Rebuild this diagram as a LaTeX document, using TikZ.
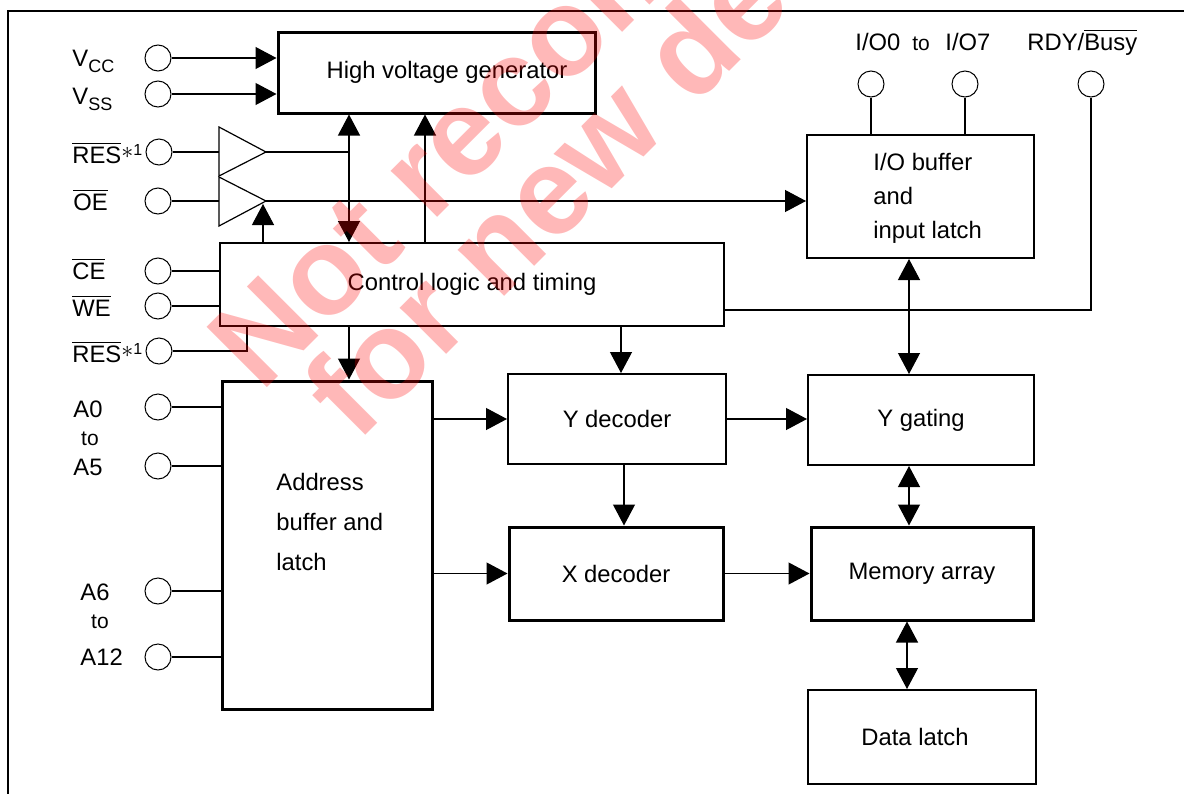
\documentclass[tikz,border=0pt]{standalone}
\usepackage{fontspec}
\setmainfont{Liberation Sans}
\usetikzlibrary{arrows.meta}
\newcommand\myovl[1]{$\overline{\hbox{#1}}$}
\newcommand\mysub[1]{\raisebox{-3pt}{\fontsize{9}{9}\selectfont #1}}
\newcommand\mystar{\raisebox{2.5pt}{$\ast$}\raisebox{4pt}{\fontsize{8}{8}\selectfont 1}}
\begin{document}
\begin{tikzpicture}[x=0.5pt,y=-0.5pt,
  every node/.style={font=\fontsize{11.9}{14}\selectfont},
  pin/.style={circle,draw,line width=0.5pt,minimum size=13pt,inner sep=0pt},
  box/.style={draw,line width=1pt,rectangle,inner sep=0pt},
  thickbox/.style={box,line width=1.5pt},
  lbl/.style={inner sep=0pt,anchor=base west},
  small/.style={inner sep=0pt,font=\fontsize{10.5}{12}\selectfont},
  conn/.style={line width=0.6pt},
  arr/.style={conn,-{Triangle[length=10.5pt,width=11pt]}},
  darr/.style={conn,{Triangle[length=10.5pt,width=11pt]}-{Triangle[length=10.5pt,width=11pt]}},
  buf/.style={line width=0.6pt},
  wm/.style={inner sep=0pt,anchor=base west,rotate=45,text=red,text opacity=0.28,
    font=\fontsize{62}{62}\bfseries\selectfont}
]
\useasboundingbox (0,0) rectangle (1184,793);
% frame
\draw[line width=1.3pt] (8,810) -- (8,11) -- (1200,11);

% boxes
\node[thickbox,minimum width=158.5pt,minimum height=40.5pt] (hv) at (436.5,72.5) {\hspace*{10.5pt}High voltage generator};
\node[box,minimum width=252pt,minimum height=41.5pt] (ctl) at (472,284.5) {Control logic and timing};
\node[thickbox,minimum width=105pt,minimum height=164pt] (addr) at (327,545) {};
\node[inner sep=0pt,anchor=west,align=left,font=\fontsize{11.9}{20}\selectfont] (addrtxt) at (276,522) {Address\\buffer and\\latch};
\node[box,minimum width=109pt,minimum height=45pt] (ydec) at (617,419) {Y decoder};
\node[thickbox,minimum width=107pt,minimum height=46.5pt] (xdec) at (616,573.5) {X decoder};
\node[box,minimum width=113.5pt,minimum height=61.5pt] (iob) at (920.5,196.5) {};
\node[inner sep=0pt,anchor=west,align=left,font=\fontsize{11.9}{17}\selectfont] (iobtxt) at (873,198) {I/O buffer\\and\\input latch};
\node[box,minimum width=113pt,minimum height=45pt] (ygat) at (921,420) {Y gating};
\node[thickbox,minimum width=111pt,minimum height=46.5pt] (mem) at (922,573.5) {Memory array};
\node[box,minimum width=114pt,minimum height=47pt] (dlat) at (922,737) {Data latch\hspace*{7pt}};

% pins
\node[pin] (vcc) at (158,58) {};
\node[pin] (vss) at (158,94) {};
\node[pin] (res1) at (159,152) {};
\node[pin] (oe) at (158,201) {};
\node[pin] (ce) at (158,271) {};
\node[pin] (we) at (158,306) {};
\node[pin] (res2) at (159,351) {};
\node[pin] (a0) at (158,407) {};
\node[pin] (a5) at (158,466) {};
\node[pin] (a6) at (158,591) {};
\node[pin] (a12) at (158,657) {};
\node[pin] (io0) at (871,84) {};
\node[pin] (io7) at (965,84) {};
\node[pin] (rdy) at (1091,84) {};

% pin labels
\node[lbl] (lvcc) at (72,66) {V\mysub{CC}};
\node[lbl] (lvss) at (72,104) {V\mysub{SS}};
\node[lbl] (lres1) at (72,163) {\myovl{RES}\mystar};
\node[lbl] (loe) at (73,210) {\myovl{OE}};
\node[lbl] (lce) at (72,279) {\myovl{CE}};
\node[lbl] (lwe) at (72,316) {\myovl{WE}};
\node[lbl] (lres2) at (72,362) {\myovl{RES}\mystar};
\node[lbl] (la0) at (73,417) {A0};
\node[small] (lto1) at (90,439) {to};
\node[lbl] (la5) at (73,475) {A5};
\node[lbl] (la6) at (80,600) {A6};
\node[small] (lto2) at (100,622) {to};
\node[lbl] (la12) at (80,665) {A12};
\node[lbl] (lio0) at (855,50) {I/O0};
\node[small,anchor=base west] (lto3) at (912,50) {to};
\node[lbl] (lio7) at (945,50) {I/O7};
\node[lbl] (lrdy) at (1027,50) {RDY/\myovl{Busy}};

% buffers
\coordinate (b1in) at (219,152);
\coordinate (b1t) at (266,152);
\coordinate (b2in) at (219,201);
\coordinate (b2t) at (266,201);
\coordinate (b2en) at (263,204);
\draw[buf] (219,127) -- (b1t) -- (219,176) -- cycle;
\draw[buf] (219,177) -- (b2t) -- (219,226) -- cycle;

% junction coordinates
\coordinate (x349) at (349,152);
\coordinate (x425) at (425,0);
\coordinate (x621) at (621,0);
\coordinate (x624) at (624,0);
\coordinate (x909) at (909,0);
\coordinate (x907) at (907,0);
\coordinate (r2k) at (247,351);
\coordinate (rdyk) at (1091,310);

% connectors
\draw[arr] (vcc) -- (vcc -| hv.west);
\draw[arr] (vss) -- (vss -| hv.west);
\draw[conn] (res1) -- (b1in);
\draw[conn] (oe) -- (b2in);
\draw[conn] (b1t) -- (x349);
\draw[darr] (hv.south -| x349) -- (ctl.north -| x349);
\draw[arr] (ctl.north -| x425) -- (hv.south -| x425);
\draw[arr] (ctl.north -| b2en) -- (b2en);
\draw[arr] (b2t) -- (b2t -| iob.west);
\draw[conn] (ce) -- (ce -| ctl.west);
\draw[conn] (we) -- (we -| ctl.west);
\draw[conn] (res2) -- (r2k) -- (r2k |- ctl.south);
\draw[arr] (ctl.south -| x349) -- (addr.north -| x349);
\draw[arr] (ctl.south -| x621) -- (ydec.north -| x621);
\draw[conn] (ctl.east |- rdyk) -- (rdyk) -- (rdy);
\draw[conn] (a0) -- (a0 -| addr.west);
\draw[conn] (a5) -- (a5 -| addr.west);
\draw[conn] (a6) -- (a6 -| addr.west);
\draw[conn] (a12) -- (a12 -| addr.west);
\draw[arr] (addr.east |- ydec.west) -- (ydec.west);
\draw[arr] (addr.east |- xdec.west) -- (xdec.west);
\draw[arr] (ydec.south -| x624) -- (xdec.north -| x624);
\draw[arr] (ydec.east) -- (ydec.east -| ygat.west);
\draw[arr] (xdec.east) -- (xdec.east -| mem.west);
\draw[conn] (io0) -- (io0 |- iob.north);
\draw[conn] (io7) -- (io7 |- iob.north);
\draw[darr] (iob.south -| x909) -- (ygat.north -| x909);
\draw[darr] (ygat.south -| x909) -- (mem.north -| x909);
\draw[darr] (mem.south -| x907) -- (dlat.north -| x907);

% watermark
\begin{scope}
\clip (0,0) rectangle (1184,793);
\node[wm] (wm1) at (261,394) {Not recommended};
\node[wm] (wm2) at (357,444) {for new designs};
\end{scope}
\end{tikzpicture}
\end{document}
